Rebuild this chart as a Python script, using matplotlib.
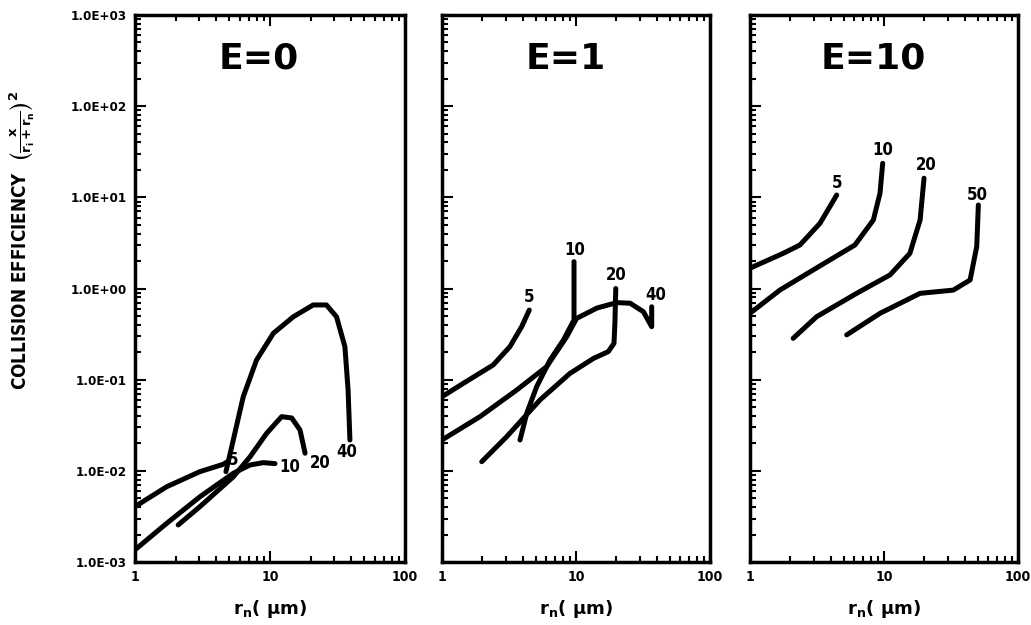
import numpy as np
import matplotlib
matplotlib.use('Agg')
import matplotlib.pyplot as plt
from matplotlib.ticker import LogLocator, FixedLocator, FuncFormatter, NullFormatter

plt.rcParams['font.family'] = 'DejaVu Sans'
plt.rcParams['font.weight'] = 'bold'
plt.rcParams['mathtext.fontset'] = 'dejavusans'
plt.rcParams['mathtext.default'] = 'bf'

# ---- data (x = r_n in um, y = collision efficiency) ----
titles = ['E=0', 'E=1', 'E=10']
y_decades = [1e-3, 1e-2, 1e-1, 1e0, 1e1, 1e2, 1e3]

# E = 0
e0_x5 = [1.0, 1.72, 3.03, 4.51, 4.8]
e0_y5 = [4.05e-3, 6.7e-3, 9.8e-3, 1.18e-2, 1.25e-2]
e0_x10 = [1.0, 1.72, 3.03, 5.35, 7.13, 8.93, 10.9]
e0_y10 = [1.36e-3, 2.66e-3, 5.2e-3, 9.4e-3, 1.16e-2, 1.23e-2, 1.2e-2]
e0_x20 = [2.09, 3.03, 5.35, 7.13, 9.45, 12.2, 14.5, 16.7, 18.2]
e0_y20 = [2.55e-3, 4.05e-3, 8.6e-3, 1.43e-2, 2.58e-2, 3.93e-2, 3.8e-2, 2.8e-2, 1.56e-2]
e0_x40 = [4.72, 5.35, 6.34, 7.95, 10.6, 14.9, 20.9, 26.2, 31.1, 35.9, 37.9, 39.1]
e0_y40 = [9.8e-3, 2.18e-2, 6.5e-2, 0.164, 0.323, 0.49, 0.66, 0.66, 0.49, 0.23, 7.7e-2, 2.18e-2]

# E = 1
e1_x5 = [1.0, 1.44, 2.41, 3.21, 3.93, 4.48]
e1_y5 = [6.5e-2, 9.1e-2, 0.145, 0.23, 0.381, 0.58]
e1_x10 = [3.82, 4.29, 5.09, 6.40, 8.05, 9.66, 9.66]
e1_y10 = [2.18e-2, 4.28e-2, 8.4e-2, 0.164, 0.272, 0.452, 1.97]
e1_x20 = [1.98, 3.04, 5.39, 9.0, 13.5, 17.4, 19.2, 19.5, 19.8]
e1_y20 = [1.26e-2, 2.37e-2, 6.0e-2, 0.117, 0.171, 0.203, 0.25, 0.415, 1.0]
e1_x40 = [1.0, 1.92, 3.61, 6.04, 8.53, 10.1, 14.3, 20.1, 25.3, 31.8, 36.7, 36.7]
e1_y40 = [2.18e-2, 3.93e-2, 7.7e-2, 0.139, 0.297, 0.47, 0.61, 0.70, 0.69, 0.557, 0.381, 0.63]

# E = 10
e10_x5 = [1.0, 1.77, 2.36, 3.33, 4.44]
e10_y5 = [1.67, 2.43, 3.0, 5.19, 10.6]
e10_x10 = [1.0, 1.67, 2.97, 6.07, 8.33, 9.34, 9.78]
e10_y10 = [0.534, 0.96, 1.6, 3.0, 5.64, 11.1, 23.6]
e10_x20 = [2.1, 3.14, 6.25, 11.1, 15.6, 18.6, 19.9]
e10_y20 = [0.284, 0.49, 0.885, 1.41, 2.43, 5.64, 16.2]
e10_x50 = [5.27, 9.34, 18.6, 32.9, 43.9, 49.2, 50.6]
e10_y50 = [0.31, 0.534, 0.885, 0.96, 1.24, 2.88, 8.24]

panels = [
    [(e0_x5, e0_y5), (e0_x10, e0_y10), (e0_x20, e0_y20), (e0_x40, e0_y40)],
    [(e1_x5, e1_y5), (e1_x10, e1_y10), (e1_x20, e1_y20), (e1_x40, e1_y40)],
    [(e10_x5, e10_y5), (e10_x10, e10_y10), (e10_x20, e10_y20), (e10_x50, e10_y50)],
]

# curve labels: text, x, y
labels = [
    [('5', 5.3, 1.31e-2), ('10', 14.0, 1.1e-2), ('20', 23.5, 1.22e-2), ('40', 37.2, 1.6e-2)],
    [('5', 4.46, 0.807), ('10', 9.8, 2.64), ('20', 20.0, 1.41), ('40', 39.4, 0.85)],
    [('5', 4.44, 14.3), ('10', 9.85, 33.0), ('20', 20.6, 22.6), ('50', 49.6, 10.6)],
]

fig = plt.figure(figsize=(10.31, 6.25), dpi=100)
lefts = [0.1309, 0.4287, 0.7274]
widths = [0.2619, 0.26, 0.26]

for i in range(3):
    ax = fig.add_axes([lefts[i], 0.1008, widths[i], 0.8752])
    ax.set_xscale('log')
    ax.set_yscale('log')
    ax.set_xlim(1, 100)
    ax.set_ylim(1e-3, 1e3)

    for xs, ys in panels[i]:
        ax.plot(xs, ys, color='black', lw=3.6, solid_capstyle='round',
                solid_joinstyle='round')
    for t, x, y in labels[i]:
        ax.text(x, y, t, ha='center', va='center', fontsize=12,
                fontweight='bold', fontstretch='condensed')

    ax.text(0.46, 0.92, titles[i], transform=ax.transAxes, ha='center',
            va='center', fontsize=26, fontweight='bold')

    for s in ax.spines.values():
        s.set_linewidth(2.5)

    ax.xaxis.set_major_locator(FixedLocator([1, 10, 100]))
    ax.xaxis.set_minor_locator(LogLocator(base=10, subs=np.arange(2, 10)))
    ax.xaxis.set_minor_formatter(NullFormatter())
    ax.xaxis.set_major_formatter(FuncFormatter(lambda v, p: '%d' % round(v)))
    ax.yaxis.set_major_locator(FixedLocator(y_decades))
    ax.yaxis.set_minor_locator(LogLocator(base=10, subs=np.arange(2, 10), numticks=20))
    ax.yaxis.set_minor_formatter(NullFormatter())
    if i == 0:
        ax.yaxis.set_major_formatter(
            FuncFormatter(lambda v, p: '1.0E%+03d' % round(np.log10(v))))
    else:
        ax.yaxis.set_major_formatter(NullFormatter())

    ax.tick_params(which='both', direction='in', top=True, right=False, width=1.5)
    ax.tick_params(which='major', length=8, pad=6)
    ax.tick_params(which='minor', length=4)
    ax.tick_params(axis='x', labelsize=10)
    ax.tick_params(axis='y', labelsize=9.5)
    for lab in ax.get_xticklabels() + ax.get_yticklabels():
        lab.set_fontweight('bold')
        lab.set_fontstretch('condensed')

    ax.set_xlabel(r'r$_{\mathbf{n}}$( $\mu$m)', fontsize=13, fontweight='bold',
                  labelpad=10)

fig.text(0.022, 0.615, r'COLLISION EFFICIENCY  $\left(\frac{x}{r_i+r_n}\right)^2$',
         rotation=90, ha='center', va='center', fontsize=13.5, fontweight='bold',
         fontstretch='condensed')

fig.savefig('out.png', dpi=100)
